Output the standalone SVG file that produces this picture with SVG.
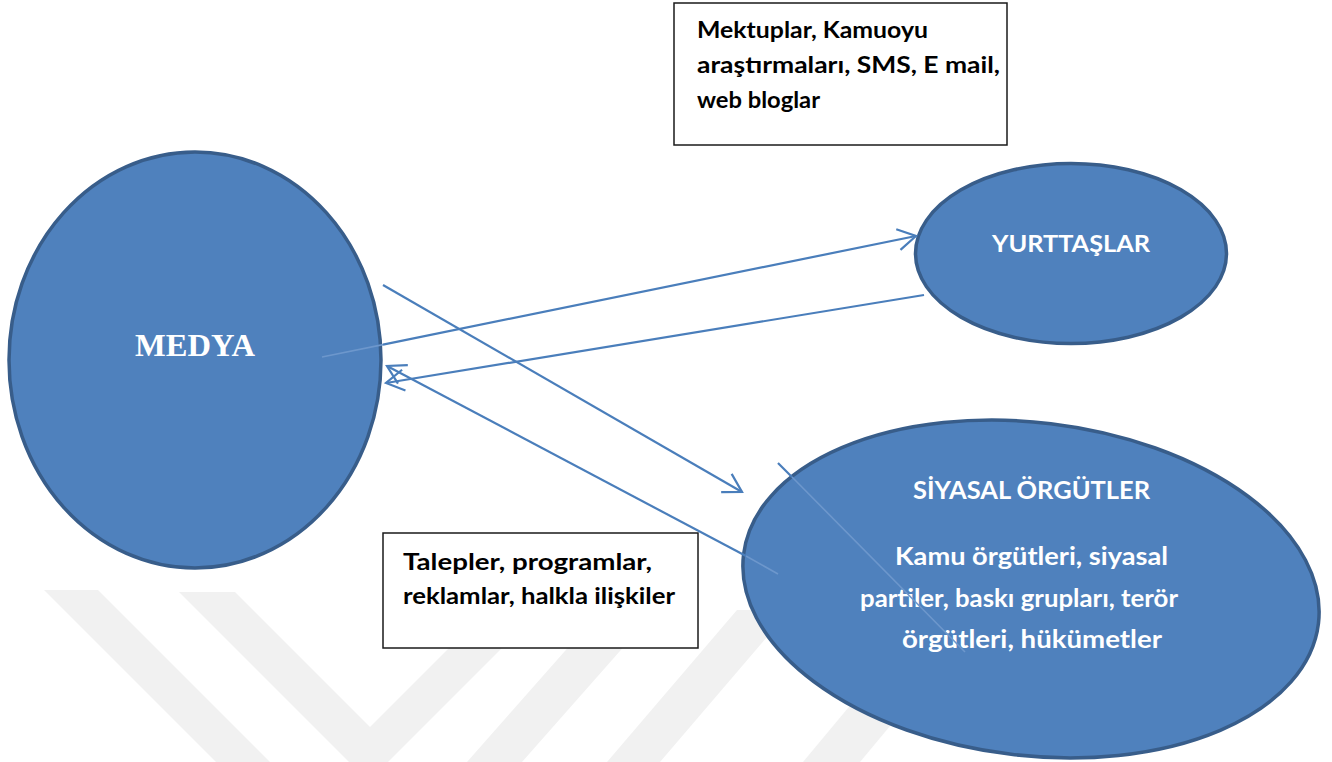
<svg xmlns="http://www.w3.org/2000/svg" width="1332" height="762" viewBox="0 0 1332 762">
<style>
.wm{fill:#f1f1f1;stroke:none}
.node{fill:#4f81bd;stroke:#385d8a;stroke-width:3.5}
.box{fill:#ffffff;stroke:#1a1a1a;stroke-width:1.5}
.bt{font-family:Lato,"Open Sans","Liberation Sans",sans-serif;font-weight:bold;fill:#000000}
.wt{font-family:Lato,"Open Sans","Liberation Sans",sans-serif;font-weight:bold;fill:#ffffff}
.st{font-family:"Liberation Serif","Times New Roman",serif;font-weight:bold;fill:#ffffff}
.cn{stroke:#4a7ebb;stroke-width:2.2;fill:none}
.cin{stroke:#6d97cc;stroke-width:1.6;fill:none}
</style>
<defs>
<marker id="arr" markerUnits="userSpaceOnUse" markerWidth="40" markerHeight="40" refX="0" refY="0" viewBox="-20 -20 40 40" orient="auto" overflow="visible">
<path d="M-18,-10.5 L0,0 L-18,10.5" fill="none" stroke="#4a7ebb" stroke-width="2.2"/>
</marker>
</defs>
<rect x="0" y="0" width="1332" height="762" fill="#ffffff"/>
<g id="watermark">
<polygon class="wm" points="44,590 98,590 270,762 216,762"/>
<polygon class="wm" points="179,592 235,592 370,727 537,560 590,560 388,762 349,762"/>
<polygon class="wm" points="467,762 522,762 665,600 610,600"/>
<polygon class="wm" points="607,762 660,762 790,610 737,610"/>
<polygon class="wm" points="803,762 860,762 920,690 863,690"/>
</g>
<g id="box-mektuplar">
<rect class="box" x="674" y="3" width="333" height="142"/>
<text class="bt" font-size="22.5" x="697" y="38" textLength="231" lengthAdjust="spacingAndGlyphs">Mektuplar, Kamuoyu</text>
<text class="bt" font-size="22.5" x="697" y="73" textLength="303" lengthAdjust="spacingAndGlyphs">araştırmaları, SMS, E mail,</text>
<text class="bt" font-size="22.5" x="697" y="108" textLength="123" lengthAdjust="spacingAndGlyphs">web bloglar</text>
</g>
<g id="box-talepler">
<rect class="box" x="383" y="533" width="315" height="115"/>
<text class="bt" font-size="23" x="403" y="570" textLength="249" lengthAdjust="spacingAndGlyphs">Talepler, programlar,</text>
<text class="bt" font-size="23" x="403" y="604" textLength="272" lengthAdjust="spacingAndGlyphs">reklamlar, halkla ilişkiler</text>
</g>
<g id="node-medya">
<ellipse class="node" cx="195" cy="360" rx="186" ry="208"/>
<text class="st" font-size="32" x="135" y="356" textLength="120" lengthAdjust="spacingAndGlyphs">MEDYA</text>
</g>
<g id="node-yurttaslar">
<ellipse class="node" cx="1071" cy="253.5" rx="155.5" ry="90"/>
<text class="wt" font-size="23.5" x="992" y="252" textLength="158" lengthAdjust="spacingAndGlyphs">YURTTAŞLAR</text>
</g>
<g id="node-siyasal">
<ellipse class="node" cx="1031" cy="589" rx="289.5" ry="166.5" transform="rotate(6.84 1031 589)"/>
<text class="wt" font-size="25" x="913" y="499" textLength="237" lengthAdjust="spacingAndGlyphs">SİYASAL ÖRGÜTLER</text>
<text class="wt" font-size="25" x="895" y="565" textLength="273" lengthAdjust="spacingAndGlyphs">Kamu örgütleri, siyasal</text>
<text class="wt" font-size="25" x="860" y="607" textLength="318" lengthAdjust="spacingAndGlyphs">partiler, baskı grupları, terör</text>
<text class="wt" font-size="25" x="902" y="648" textLength="260" lengthAdjust="spacingAndGlyphs">örgütleri, hükümetler</text>
</g>
<g id="connectors">
<g id="c-medya-yurttaslar">
<line class="cn" x1="383" y1="344.6" x2="916" y2="236" marker-end="url(#arr)"/>
<line class="cin" x1="322" y1="357" x2="383" y2="344.6"/>
</g>
<g id="c-yurttaslar-medya">
<line class="cn" x1="924" y1="295" x2="386" y2="383" marker-end="url(#arr)"/>
</g>
<g id="c-medya-siyasal">
<line class="cn" x1="383" y1="285" x2="742" y2="492" marker-end="url(#arr)"/>
</g>
<g id="c-siyasal-medya">
<line class="cn" x1="746" y1="556" x2="387" y2="366" marker-end="url(#arr)"/>
<line class="cin" x1="778" y1="574" x2="746" y2="556"/>
</g>
<g id="c-siyasal-inner">
<line class="cn" x1="778" y1="463" x2="792" y2="477"/>
<line class="cin" x1="792" y1="477" x2="965" y2="652"/>
</g>
</g>
</svg>
